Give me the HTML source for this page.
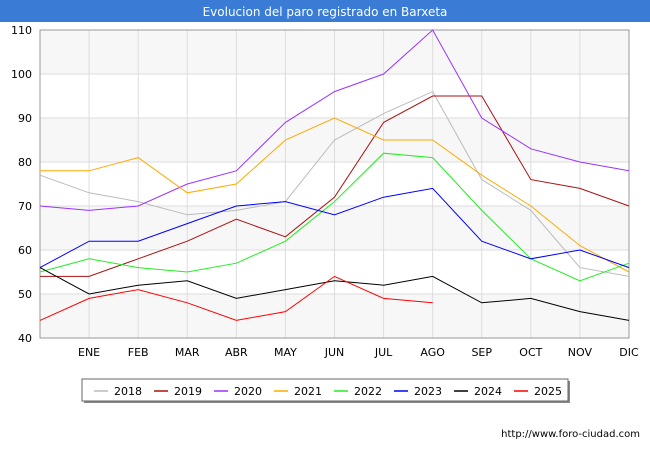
<!DOCTYPE html>
<html><head><meta charset="utf-8"><style>
body{margin:0;width:650px;height:450px;background:#fff;font-family:"DejaVu Sans","Liberation Sans",sans-serif;overflow:hidden}
svg text{font-family:"DejaVu Sans","Liberation Sans",sans-serif}
</style></head><body>
<svg id="c" width="650" height="450" xmlns="http://www.w3.org/2000/svg"></svg>
<script>
const categories=["","ENE","FEB","MAR","ABR","MAY","JUN","JUL","AGO","SEP","OCT","NOV","DIC"];
const yTicks=[40,50,60,70,80,90,100,110];
const seriesNames=["2018","2019","2020","2021","2022","2023","2024","2025"];
const colors=["#bbbbbb","#aa1111","#9933ff","#ffaa00","#22ee22","#0000ff","#000000","#ff0000"];
const s2018=[77,73,71,68,69,71,85,91,96,76,69,56,54];
const s2019=[54,54,58,62,67,63,72,89,95,95,76,74,70];
const s2020=[70,69,70,75,78,89,96,100,110,90,83,80,78];
const s2021=[78,78,81,73,75,85,90,85,85,77,70,61,55];
const s2022=[55,58,56,55,57,62,71,82,81,69,58,53,57];
const s2023=[56,62,62,66,70,71,68,72,74,62,58,60,56];
const s2024=[56,50,52,53,49,51,53,52,54,48,49,46,44];
const s2025=[44,49,51,48,44,46,54,49,48];
const allSeries=[s2018,s2019,s2020,s2021,s2022,s2023,s2024,s2025];
const X0=40,X1=629,Y0=338,Y1=30,YMIN=40,YMAX=110;
const xs=i=>X0+(X1-X0)*i/(categories.length-1);
const ys=v=>Y0-(v-YMIN)*(Y0-Y1)/(YMAX-YMIN);
const svg=document.getElementById('c');const NS="http://www.w3.org/2000/svg";
function mk(t,a,p){const e=document.createElementNS(NS,t);for(const k in a)e.setAttribute(k,a[k]);(p||svg).appendChild(e);return e;}
let e=mk('rect',{x:0,y:0,width:650,height:22,fill:'#3a7bd5'});


e=mk('text',{x:325,y:16,'text-anchor':'middle','font-size':12,fill:'#fff'});e.textContent='Evolucion del paro registrado en Barxeta';


for(let i=0;i<yTicks.length-1;i++){
 if(i%2==0){e=mk('rect',{x:X0,y:ys(yTicks[i+1]),width:X1-X0,height:ys(yTicks[i])-ys(yTicks[i+1]),fill:'#f7f7f7'});
 
 }
}
yTicks.forEach(v=>{e=mk('line',{x1:X0,x2:X1,y1:ys(v),y2:ys(v),stroke:'#dddddd'});
 
 
 e=mk('text',{x:X0-8,y:ys(v)+4,'text-anchor':'end','font-size':11,fill:'#000'});e.textContent=v;
 
 });
categories.forEach((c,i)=>{e=mk('line',{x1:xs(i),x2:xs(i),y1:Y1,y2:Y0,stroke:'#dddddd'});
 
 
 if(c){e=mk('text',{x:xs(i),y:Y0+18,'text-anchor':'middle','font-size':11,fill:'#000'});e.textContent=c;
 
 }});
e=mk('rect',{x:X0,y:Y1,width:X1-X0,height:Y0-Y1,fill:'none',stroke:'#999'});


allSeries.forEach((s,k)=>{e=mk('polyline',{points:s.map((v,i)=>xs(i)+','+ys(v)).join(' '),fill:'none',stroke:colors[k],'stroke-width':1});
 
 });
e=mk('rect',{x:84,y:381,width:486,height:22,fill:'#888'});


e=mk('rect',{x:82,y:379,width:486,height:22,fill:'#fff',stroke:'#666'});


seriesNames.forEach((n,k)=>{const lx=94+k*60;
 const g=mk('g',{});
 
 
 mk('line',{x1:lx,x2:lx+14,y1:391,y2:391,stroke:colors[k],'stroke-width':1.5},g);
 const t=mk('text',{x:lx+20,y:395,'font-size':11,fill:'#000'},g);t.textContent=n;});
e=mk('text',{x:640,y:437,'text-anchor':'end','font-size':10,fill:'#000'});e.textContent='http://www.foro-ciudad.com';


</script>
</body></html>
